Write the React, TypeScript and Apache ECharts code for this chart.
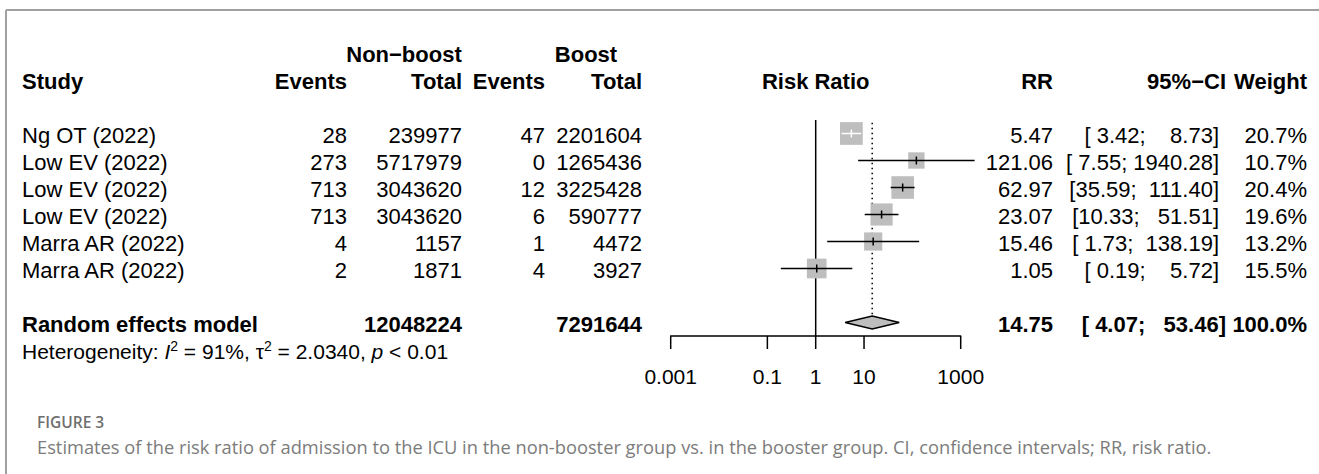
import React, { useEffect, useRef } from "react";
import * as echarts from "echarts";

// ---------- data ----------
const studies = ["Ng OT (2022)", "Low EV (2022)", "Low EV (2022)", "Low EV (2022)", "Marra AR (2022)", "Marra AR (2022)"];
const eventsNonBoost = [28, 273, 713, 713, 4, 2];
const totalNonBoost = [239977, 5717979, 3043620, 3043620, 1157, 1871];
const eventsBoost = [47, 0, 12, 6, 1, 4];
const totalBoost = [2201604, 1265436, 3225428, 590777, 4472, 3927];
const riskRatios = [5.47, 121.06, 62.97, 23.07, 15.46, 1.05];
const ciLower = [3.42, 7.55, 35.59, 10.33, 1.73, 0.19];
const ciUpper = [8.73, 1940.28, 111.4, 51.51, 138.19, 5.72];
const weights = [20.7, 10.7, 20.4, 19.6, 13.2, 15.5];

const pooledLabel = "Random effects model";
const pooledTotalNonBoost = 12048224;
const pooledTotalBoost = 7291644;
const pooledRR = 14.75;
const pooledLower = 4.07;
const pooledUpper = 53.46;
const pooledWeight = 100.0;

const hetI2 = "91%";
const hetTau2 = "2.0340";
const hetP = "< 0.01";

const tickValues = [0.001, 0.1, 1, 10, 1000];

const captionTitle = "FIGURE 3";
const captionText =
  "Estimates of the risk ratio of admission to the ICU in the non-booster group vs. in the booster group. CI, confidence intervals; RR, risk ratio.";

// ---------- layout / style ----------
const FONT = "'Liberation Sans', Arial, Helvetica, sans-serif";
const FS = 22;
const FS_HET = 21;
const FS_AXIS = 21;
const TEXT_DY = 2;
const X_STUDY = 22;
const X_NB_EVENTS = 347;
const X_NB_TOTAL = 462;
const X_B_EVENTS = 545;
const X_B_TOTAL = 642;
const X_NB_HEAD = 404;
const X_B_HEAD = 586;
const X_RR = 1053;
const X_CI = 1219;
const X_CI_BOLD = 1226;
const X_WEIGHT = 1307;

const lowerStr = [...ciLower, pooledLower].map((v) => v.toFixed(2));
const upperStr = [...ciUpper, pooledUpper].map((v) => v.toFixed(2));
const lowW = Math.max(...lowerStr.map((s) => s.length));
const upW = Math.max(...upperStr.map((s) => s.length));
const ciText = (i: number) => "[" + lowerStr[i].padStart(lowW, " ") + "; " + upperStr[i].padStart(upW, " ") + "]";

type Cell = { t: string; x: number | "center"; align: "left" | "right" | "center"; bold?: boolean; rich?: boolean };

function cellsFor(row: number): Cell[] {
  if (row === -3) {
    return [
      { t: "Non\u2212boost", x: X_NB_HEAD, align: "center", bold: true },
      { t: "Boost", x: X_B_HEAD, align: "center", bold: true },
    ];
  }
  if (row === -2) {
    return [
      { t: "Study", x: X_STUDY, align: "left", bold: true },
      { t: "Events", x: X_NB_EVENTS, align: "right", bold: true },
      { t: "Total", x: X_NB_TOTAL, align: "right", bold: true },
      { t: "Events", x: X_B_EVENTS, align: "right", bold: true },
      { t: "Total", x: X_B_TOTAL, align: "right", bold: true },
      { t: "Risk Ratio", x: "center", align: "center", bold: true },
      { t: "RR", x: X_RR, align: "right", bold: true },
      { t: "95%\u2212CI", x: X_CI_BOLD, align: "right", bold: true },
      { t: "Weight", x: X_WEIGHT, align: "right", bold: true },
    ];
  }
  if (row >= 0 && row < studies.length) {
    const i = row;
    return [
      { t: studies[i], x: X_STUDY, align: "left" },
      { t: String(eventsNonBoost[i]), x: X_NB_EVENTS, align: "right" },
      { t: String(totalNonBoost[i]), x: X_NB_TOTAL, align: "right" },
      { t: String(eventsBoost[i]), x: X_B_EVENTS, align: "right" },
      { t: String(totalBoost[i]), x: X_B_TOTAL, align: "right" },
      { t: riskRatios[i].toFixed(2), x: X_RR, align: "right" },
      { t: ciText(i), x: X_CI, align: "right" },
      { t: weights[i].toFixed(1) + "%", x: X_WEIGHT, align: "right" },
    ];
  }
  if (row === studies.length + 1) {
    return [
      { t: pooledLabel, x: X_STUDY, align: "left", bold: true },
      { t: String(pooledTotalNonBoost), x: X_NB_TOTAL, align: "right", bold: true },
      { t: String(pooledTotalBoost), x: X_B_TOTAL, align: "right", bold: true },
      { t: pooledRR.toFixed(2), x: X_RR, align: "right", bold: true },
      { t: ciText(studies.length), x: X_CI_BOLD, align: "right", bold: true },
      { t: pooledWeight.toFixed(1) + "%", x: X_WEIGHT, align: "right", bold: true },
    ];
  }
  return [
    {
      t:
        "{n|Heterogeneity: }{i|I}{s|2}{n| = " + hetI2 + ", \u03c4}{s|2}{n| = " + hetTau2 + ", }{i|p}{n| " + hetP + "}",
      x: X_STUDY,
      align: "left",
      rich: true,
    },
  ];
}

const textRows = [-3, -2, ...studies.map((_, i) => i), studies.length + 1, studies.length + 2];

export default function App() {
  const ref = useRef<HTMLDivElement>(null);
  useEffect(() => {
    if (!ref.current) return;
    const chart = echarts.init(ref.current, undefined, { renderer: "svg" });
    const pooledRow = studies.length + 1;
    const option: any = {
      animation: false,
      backgroundColor: "#ffffff",
      grid: { left: 670.7, width: 290, top: 120, height: 216 },
      xAxis: {
        type: "log",
        logBase: 10,
        min: 0.001,
        max: 1000,
        splitNumber: 6,
        axisLine: { show: true, onZero: false, lineStyle: { color: "#000", width: 1.5 } },
        axisTick: { show: false },
        minorTick: { show: false },
        splitLine: { show: false },
        axisLabel: {
          margin: 30,
          fontSize: FS_AXIS,
          fontFamily: FONT,
          color: "#000",
          formatter: (v: number) => {
            const t = tickValues.find((tv) => Math.abs(Math.log10(v) - Math.log10(tv)) < 1e-6);
            return t === undefined ? "" : String(t);
          },
        },
      },
      yAxis: { type: "value", inverse: true, min: -0.5, max: 7.5, show: false },
      graphic: [
        { type: "line", shape: { x1: 6, y1: 10, x2: 1319, y2: 10 }, style: { stroke: "#a0a0a0", lineWidth: 2 } },
        { type: "line", shape: { x1: 6, y1: 10, x2: 6, y2: 474 }, style: { stroke: "#a0a0a0", lineWidth: 2 } },
        {
          type: "text",
          x: 37,
          y: 422,
          style: { text: captionTitle, fill: "#6f6f6f", fontSize: 15.5, fontWeight: 600, fontFamily: "'Open Sans', sans-serif", verticalAlign: "middle" },
        },
        {
          type: "text",
          x: 37,
          y: 446,
          style: { text: captionText, fill: "#7c7c7c", fontSize: 18.3, fontFamily: "'Open Sans', sans-serif", verticalAlign: "middle" },
        },
      ],
      series: [
        {
          type: "custom",
          name: "no effect",
          data: [[1, -0.5]],
          renderItem: (_p: any, api: any) => {
            const a = api.coord([api.value(0), -0.5]);
            const b = api.coord([api.value(0), 7.5]);
            return { type: "line", shape: { x1: a[0], y1: a[1], x2: b[0], y2: b[1] }, style: { stroke: "#000", lineWidth: 1.5 } };
          },
        },
        {
          type: "custom",
          name: "pooled line",
          data: [[pooledRR, pooledRow]],
          renderItem: (_p: any, api: any) => {
            const a = api.coord([api.value(0), -0.4]);
            const b = api.coord([api.value(0), api.value(1)]);
            return {
              type: "line",
              shape: { x1: a[0], y1: a[1], x2: b[0], y2: b[1] - 6.5 },
              style: { stroke: "#000", lineWidth: 1.5, lineDash: [1.5, 3.5] },
            };
          },
        },
        {
          type: "custom",
          name: "studies",
          data: studies.map((_, i) => [riskRatios[i], i, ciLower[i], ciUpper[i], weights[i]]),
          renderItem: (_p: any, api: any) => {
            const r = api.value(1);
            const c = api.coord([api.value(0), r]);
            const lo = api.coord([api.value(2), r]);
            const hi = api.coord([api.value(3), r]);
            const s = 5 * Math.sqrt(api.value(4));
            const inside = lo[0] >= c[0] - s / 2 && hi[0] <= c[0] + s / 2;
            const col = inside ? "#ffffff" : "#000000";
            return {
              type: "group",
              children: [
                { type: "rect", shape: { x: c[0] - s / 2, y: c[1] - s / 2, width: s, height: s }, style: { fill: "#bebebe" } },
                { type: "line", shape: { x1: lo[0], y1: c[1], x2: hi[0], y2: c[1] }, style: { stroke: col, lineWidth: 1.5 } },
                { type: "line", shape: { x1: c[0], y1: c[1] - 4, x2: c[0], y2: c[1] + 4 }, style: { stroke: col, lineWidth: 1.5 } },
              ],
            };
          },
        },
        {
          type: "custom",
          name: "pooled",
          data: [[pooledRR, pooledRow, pooledLower, pooledUpper]],
          renderItem: (_p: any, api: any) => {
            const r = api.value(1);
            const c = api.coord([api.value(0), r]);
            const lo = api.coord([api.value(2), r]);
            const hi = api.coord([api.value(3), r]);
            const h = 6.5;
            return {
              type: "polygon",
              shape: { points: [[lo[0], c[1]], [c[0], c[1] - h], [hi[0], c[1]], [c[0], c[1] + h]] },
              style: { fill: "#bebebe", stroke: "#000", lineWidth: 1.5 },
            };
          },
        },
        {
          type: "custom",
          name: "ticks",
          data: tickValues.map((v) => [v, 7.5]),
          renderItem: (_p: any, api: any) => {
            const c = api.coord([api.value(0), api.value(1)]);
            return { type: "line", shape: { x1: c[0], y1: c[1], x2: c[0], y2: c[1] + 13 }, style: { stroke: "#000", lineWidth: 1.5 } };
          },
        },
        {
          type: "custom",
          name: "table",
          data: textRows.map((r) => [1, r]),
          renderItem: (_p: any, api: any) => {
            const row = api.value(1);
            const c = api.coord([api.value(0), row]);
            const cells = cellsFor(row);
            return {
              type: "group",
              children: cells.map((cell) => {
                const style: any = {
                  text: cell.t,
                  fill: "#000",
                  fontSize: cell.rich ? FS_HET : FS,
                  fontFamily: FONT,
                  fontWeight: cell.bold ? "bold" : "normal",
                  align: cell.align,
                  verticalAlign: "middle",
                };
                if (cell.rich) {
                  style.rich = {
                    n: { fontSize: FS_HET, fontFamily: FONT, lineHeight: 26, fill: "#000" },
                    i: { fontSize: FS_HET, fontFamily: FONT, fontStyle: "italic", lineHeight: 26, fill: "#000" },
                    s: { fontSize: 14, fontFamily: FONT, verticalAlign: "top", lineHeight: 14, fill: "#000" },
                  };
                }
                return { type: "text", x: cell.x === "center" ? c[0] : cell.x, y: c[1] + TEXT_DY, style };
              }),
            };
          },
        },
      ],
    };
    chart.setOption(option);
    return () => chart.dispose();
  }, []);
  return <div ref={ref} style={{ position: "fixed", left: 0, top: 0, width: 1319, height: 474, background: "#fff" }} />;
}
